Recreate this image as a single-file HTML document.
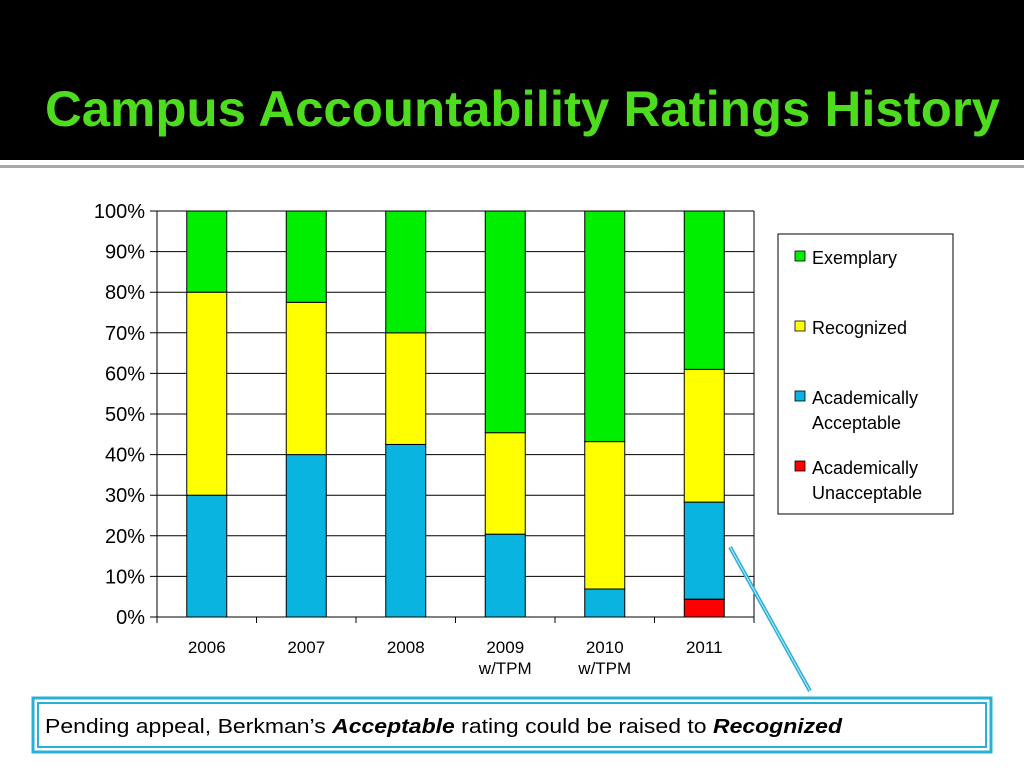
<!DOCTYPE html>
<html><head><meta charset="utf-8"><style>
body{margin:0;width:1024px;height:768px;overflow:hidden;background:#fff;font-family:"Liberation Sans",sans-serif}
</style></head><body>
<svg width="1024" height="768" xmlns="http://www.w3.org/2000/svg">
<rect x="0" y="0" width="1024" height="160" fill="#000"/>
<rect x="0" y="165" width="1024" height="3" fill="#a8a8a8"/>
<text x="45" y="126" font-size="50" font-weight="bold" fill="#4ddc1e" textLength="955" lengthAdjust="spacingAndGlyphs">Campus Accountability Ratings History</text>
<g id="chart"></g>
<g>
<rect x="778" y="234" width="175" height="280" fill="#fff" stroke="#000" stroke-width="1"/>
<rect x="795" y="251" width="10" height="10" fill="#00ee00" stroke="#000" stroke-width="0.8"/>
<text x="812" y="264" font-size="18" fill="#000">Exemplary</text>
<rect x="795" y="321" width="10" height="10" fill="#ffff00" stroke="#000" stroke-width="0.8"/>
<text x="812" y="334" font-size="18" fill="#000">Recognized</text>
<rect x="795" y="391" width="10" height="10" fill="#0ab4e0" stroke="#000" stroke-width="0.8"/>
<text x="812" y="404" font-size="18" fill="#000"><tspan>Academically</tspan><tspan x="812" dy="25">Acceptable</tspan></text>
<rect x="795" y="461" width="10" height="10" fill="#ff0000" stroke="#000" stroke-width="0.8"/>
<text x="812" y="474" font-size="18" fill="#000"><tspan>Academically</tspan><tspan x="812" dy="25">Unacceptable</tspan></text>
</g>
<g>
<line x1="730" y1="547" x2="810" y2="691" stroke="#2ab0d8" stroke-width="4"/>
<line x1="730" y1="547" x2="810" y2="691" stroke="#bfe9f5" stroke-width="1"/>
</g>
<g>
<rect x="33" y="698" width="958" height="54" fill="#fff" stroke="#2ab0d8" stroke-width="3"/>
<rect x="38" y="703" width="948" height="44" fill="none" stroke="#2ab0d8" stroke-width="2"/>
<text x="45" y="733" font-size="20" fill="#000" textLength="797" lengthAdjust="spacingAndGlyphs">Pending appeal, Berkman’s <tspan font-weight="bold" font-style="italic">Acceptable</tspan> rating could be raised to <tspan font-weight="bold" font-style="italic">Recognized</tspan></text>
</g>
</svg>
<script>
const categories=["2006","2007","2008","2009\nw/TPM","2010\nw/TPM","2011"];
const unacceptable=[0,0,0,0,0,4.4];
const acceptable=[30,40,42.5,20.4,6.9,23.9];
const recognized=[50,37.5,27.5,25,36.3,32.7];
const exemplary=[20,22.5,30,54.6,56.8,39];
const yTicks=[0,10,20,30,40,50,60,70,80,90,100];
const NS="http://www.w3.org/2000/svg";
const g=document.getElementById('chart');
const X0=157,X1=754,Y0=617,Y1=211;
const y=v=>Y0-(v/100)*(Y0-Y1);
const band=(X1-X0)/categories.length;
const xc=i=>X0+band*(i+0.5);
function mk(t,a){const e=document.createElementNS(NS,t);for(const k in a)e.setAttribute(k,a[k]);g.appendChild(e);return e;}
yTicks.forEach(v=>{
 const l=mk('line',{x1:X0-7,x2:X1,y1:y(v),y2:y(v),stroke:'#000','stroke-width':1});
 
 
 const t=mk('text',{x:X0-12,y:y(v)+7,'font-size':20,'text-anchor':'end'});
 t.textContent=v+'%';
 
 
});
const ax=mk('line',{x1:X0,x2:X0,y1:Y1,y2:Y0+5,stroke:'#000','stroke-width':1});


const rx=mk('line',{x1:X1,x2:X1,y1:Y1,y2:Y0+5,stroke:'#000','stroke-width':1});


for(let i=0;i<=categories.length;i++){
 const tk=mk('line',{x1:X0+band*i,x2:X0+band*i,y1:Y0,y2:Y0+6,stroke:'#000'});
 
 
}
const series=[[unacceptable,'#ff0000','unacceptable'],[acceptable,'#0ab4e0','acceptable'],[recognized,'#ffff00','recognized'],[exemplary,'#00ee00','exemplary']];
const bw=40;
categories.forEach((c,i)=>{
 let base=0;
 series.forEach(([arr,col,nm])=>{
  const v=arr[i];
  if(v>0){
   const r=mk('rect',{x:xc(i)-bw/2,y:y(base+v),width:bw,height:y(base)-y(base+v),fill:col,stroke:'#000','stroke-width':1});
   
   
  }
  base+=v;
 });
 const parts=c.split('\n');
 const t=mk('text',{x:xc(i),y:653,'font-size':17,'text-anchor':'middle'});
 
 
 parts.forEach((p,j)=>{const s=document.createElementNS(NS,'tspan');s.setAttribute('x',xc(i));s.setAttribute('dy',j?21:0);s.textContent=p;t.appendChild(s);});
});
</script>
</body></html>
